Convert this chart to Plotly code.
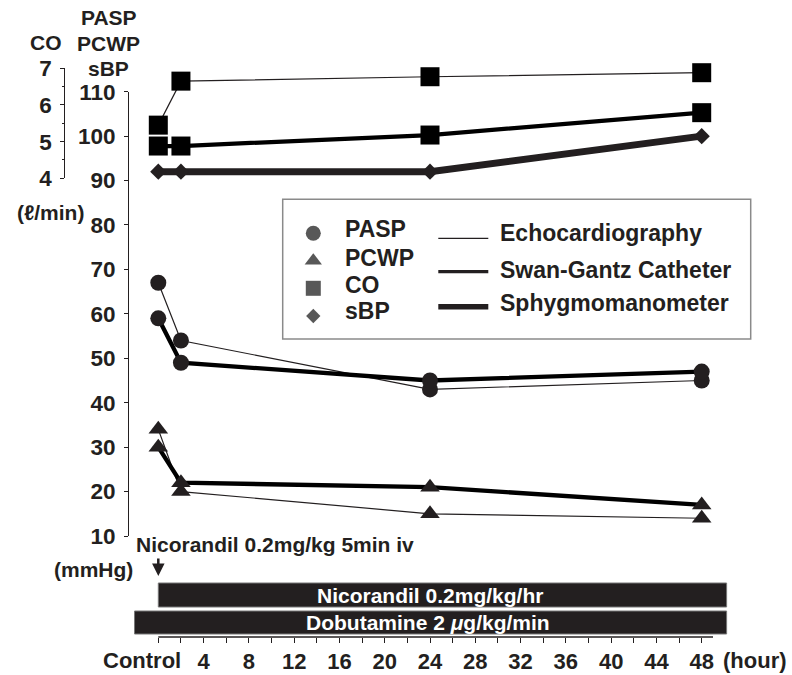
import plotly.graph_objects as go

# ---------------- data ----------------
hours = [0, 2, 24, 48]
x_tick_vals = list(range(0, 49, 2))
x_tick_text = ["" if (v == 0 or v % 4) else str(v) for v in x_tick_vals]
y_tick_vals = [10, 20, 30, 40, 50, 60, 70, 80, 90, 100, 110]
co_tick_vals = [4, 5, 6, 7]

pasp_echo = [67, 54, 43, 45]
pasp_swan = [59, 49, 45, 47]
pcwp_echo = [34, 20, 15, 14]
pcwp_swan = [30, 22, 21, 17]
co_echo = [5.45, 6.65, 6.77, 6.88]
co_swan = [4.88, 4.88, 5.18, 5.79]
sbp_sphyg = [92, 92, 92, 100]

nicorandil_period = [0, 50.2]
dobutamine_period = [-2.1, 50.2]

legend_markers = ["PASP", "PCWP", "CO", "sBP"]
legend_lines = ["Echocardiography", "Swan-Gantz Catheter", "Sphygmomanometer"]

# ---------------- styling helpers ----------------
W, H = 792, 675
INK = "#231f20"
FONT = "Liberation Sans, Arial, sans-serif"


def fx(px):
    return px / W


def fy(py):
    return 1 - py / H


fig = go.Figure()

THIN = 1.2
SWAN = 4.3
SPHYG = 7

def add(xs, ys, width, symbol, size, yaxis="y", color=INK, mcolor=INK):
    fig.add_trace(go.Scatter(
        x=xs, y=ys, yaxis=yaxis, mode="lines+markers",
        line=dict(color=color, width=width),
        marker=dict(symbol=symbol, size=size, color=mcolor, line=dict(width=0)),
        cliponaxis=False, showlegend=False, hoverinfo="skip"))

add(hours, pasp_echo, THIN, "circle", 16)
add(hours, pasp_swan, SWAN, "circle", 16, color="#000")
add(hours, pcwp_echo, THIN, "triangle-up", 17)
add(hours, pcwp_swan, SWAN, "triangle-up", 17, color="#000")
add(hours, co_echo, THIN, "square", 19, yaxis="y2", mcolor="#000")
add(hours, co_swan, SWAN, "square", 19, yaxis="y2", color="#000", mcolor="#000")
add(hours, sbp_sphyg, SPHYG, "diamond", 12.5)

# legend markers on an auxiliary pixel-space axis
leg_marker_y = [233.3, 260.7, 288.3, 316]
fig.add_trace(go.Scatter(
    x=[313.3] * 4, y=leg_marker_y, xaxis="x3", yaxis="y3", mode="markers",
    marker=dict(symbol=["circle", "triangle-up", "square", "diamond"],
                size=[15, 15, 15, 11], color="#111", line=dict(width=0)),
    showlegend=False, hoverinfo="skip", cliponaxis=False))

shapes = []
# x-axis line
shapes.append(dict(type="line", xref="x", yref="paper", x0=0, x1=49,
                   y0=fy(637), y1=fy(637), line=dict(color=INK, width=1.3)))
# treatment bars
shapes.append(dict(type="rect", xref="x", yref="paper",
                   x0=nicorandil_period[0], x1=nicorandil_period[1],
                   y0=fy(607), y1=fy(583), fillcolor=INK,
                   line=dict(color="#777", width=1)))
shapes.append(dict(type="rect", xref="x", yref="paper",
                   x0=dobutamine_period[0], x1=dobutamine_period[1],
                   y0=fy(634), y1=fy(611), fillcolor=INK,
                   line=dict(color="#777", width=1)))
# legend box
shapes.append(dict(type="rect", xref="paper", yref="paper",
                   x0=fx(282.7), x1=fx(750.7), y0=fy(339), y1=fy(199.3),
                   line=dict(color="#8a8a8a", width=1.5), fillcolor="rgba(0,0,0,0)"))
# legend line samples
for py, w in zip([238.3, 271.7, 306.7], [1.3, 3.2, 5.5]):
    shapes.append(dict(type="line", xref="paper", yref="paper",
                       x0=fx(438.3), x1=fx(488.3), y0=fy(py), y1=fy(py),
                       line=dict(color=INK, width=w)))

annotations = []

def text(s, px, py, size=21, color=INK, xanchor="center"):
    annotations.append(dict(text=s, x=fx(px), y=fy(py), xref="paper", yref="paper",
                            showarrow=False, xanchor=xanchor, yanchor="middle",
                            font=dict(family=FONT, size=size, color=color, weight="bold")))

text("CO", 46, 42.5)
text("PASP", 108.5, 18)
text("PCWP", 108.8, 43)
text("sBP", 108.3, 68)
text("(ℓ/min)", 50, 212)
text("(mmHg)", 93.3, 569)
text("Nicorandil 0.2mg/kg 5min iv", 275.3, 544)
text("Nicorandil 0.2mg/kg/hr", 430, 595, color="white")
text("Dobutamine 2 <i>μ</i>g/kg/min", 428, 622.5, color="white")
text("(hour)", 755, 660, size=22)
text("Control", 141.5, 660, size=22)

for lab, py in zip(legend_markers, [229.2, 257.5, 284.8, 310.8]):
    text(lab, 343.3, py, size=23, xanchor="left")
for lab, py in zip(legend_lines, [233.3, 270, 302.5]):
    text(lab, 497.7, py, size=23, xanchor="left")

# arrow under "Nicorandil 0.2mg/kg 5min iv"
annotations.append(dict(x=0, y=fy(576), xref="x", yref="paper", text="",
                        showarrow=True, ax=0, ay=-19, axref="pixel", ayref="pixel",
                        arrowhead=2, arrowsize=1, arrowwidth=2.5, arrowcolor=INK))

px_per_h = (701.7 - 158.3) / 48
x_lo = -158.3 / px_per_h
x_hi = (W - 158.3) / px_per_h

tick_font = dict(family=FONT, size=22.5, color=INK, weight="bold")
xtick_font = dict(family=FONT, size=22, color=INK, weight="bold")

fig.update_layout(
    width=W, height=H, margin=dict(l=0, r=0, t=0, b=0, autoexpand=False),
    paper_bgcolor="white", plot_bgcolor="rgba(0,0,0,0)",
    showlegend=False,
    xaxis=dict(domain=[0, 1], range=[x_lo, x_hi], anchor="free", position=fy(637),
               automargin=False,
               showline=False, showgrid=False, zeroline=False,
               tickmode="array", tickvals=x_tick_vals, ticktext=x_tick_text,
               ticks="outside", ticklen=5, tickwidth=1, tickcolor=INK,
               tickfont=xtick_font, ticklabelstandoff=0),
    yaxis=dict(domain=[fy(536), fy(91.7)], range=[10, 110], anchor="free",
               automargin=False,
               position=fx(128.3), showline=True, linecolor=INK, linewidth=1.3,
               showgrid=False, zeroline=False, tickmode="array", tickvals=y_tick_vals,
               ticks="outside", ticklen=4, tickwidth=1.2, tickcolor=INK,
               tickfont=tick_font, ticklabelstandoff=4),
    yaxis2=dict(domain=[fy(178.3), fy(68.3)], range=[4, 7], anchor="free",
                automargin=False,
                position=fx(64.3), showline=True, linecolor=INK, linewidth=1.3,
                showgrid=False, zeroline=False, tickmode="array", tickvals=co_tick_vals,
                ticks="outside", ticklen=4, tickwidth=1.2, tickcolor=INK,
                minor=dict(dtick=0.5, ticks="outside", ticklen=2, tickcolor=INK, showgrid=False),
                tickfont=tick_font, ticklabelstandoff=4),
    xaxis3=dict(domain=[0, 1], range=[0, W], visible=False, anchor="y3",
                fixedrange=True, automargin=False),
    yaxis3=dict(domain=[0, 1], range=[H, 0], visible=False, anchor="x3",
                fixedrange=True, automargin=False),
    shapes=shapes, annotations=annotations,
)

fig.write_html("out.html", config={"displayModeBar": False},
               post_script="document.body.style.margin='0px';document.body.style.overflow='hidden';")
